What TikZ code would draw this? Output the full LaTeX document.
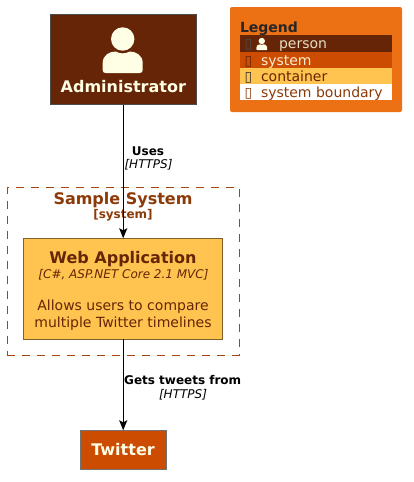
\documentclass[tikz,border=0pt]{standalone}
\usepackage{fontspec}
\setmainfont{DejaVu Sans}
\usetikzlibrary{arrows.meta}
\definecolor{personbg}{HTML}{662506}
\definecolor{systembg}{HTML}{CC4C02}
\definecolor{containerbg}{HTML}{FEC44F}
\definecolor{legendbg}{HTML}{EC7014}
\definecolor{boundarytxt}{HTML}{8C3A08}
\definecolor{boundaryline}{HTML}{A5460F}
\definecolor{containerline}{HTML}{7F6228}
\definecolor{paletxt}{HTML}{FFFFE5}

\begin{document}
\begin{tikzpicture}[x=1pt, y=-1pt, >={Stealth[length=10pt,width=8pt,inset=2pt]},
	every node/.style={inner sep=0pt, outer sep=0pt, anchor=base},
	box/.style={line width=0.9pt, anchor=center},
	row/.style={anchor=center, minimum width=152pt},
	title/.style={font=\fontsize{16}{19}\selectfont\bfseries},
	body/.style={font=\fontsize{14}{17}\selectfont},
	tech/.style={font=\fontsize{12}{14}\selectfont\itshape},
	rel/.style={font=\fontsize{12}{14}\selectfont\bfseries},
	tofu/.style={font=\fontsize{14}{17}\selectfont},
	person icon/.pic={
		\fill (0,0) circle (11.7);
		\fill (-20,31) -- (-20,24) .. controls (-20,16) and (-13,12.5) .. (-7,12.5) .. controls (-3,15) and (3,15) .. (7,12.5) .. controls (13,12.5) and (20,16) .. (20,24) -- (20,31) .. controls (20,33) and (19,34) .. (17,34) -- (-17,34) .. controls (-19,34) and (-20,33) .. (-20,31) -- cycle;
	}]
	\useasboundingbox (0,0) rectangle (414,482);
	% people and systems
	\node[box, draw=black!70, fill=personbg, minimum width=146pt, minimum height=90.5pt] (admin) at (123.2,59.25) {};
	\pic[fill=paletxt] at (122.7,39) {person icon};
	\node[title, text=paletxt] (adminname) at (123.3,92) {Administrator};

	\node[box, draw=black!55, fill=systembg, minimum width=85.5pt, minimum height=39pt] (twitter) at (123.2,449.8) {};
	\node[title, text=paletxt] (twittername) at (123,455) {Twitter};

	% boundary
	\node[draw=boundaryline, line width=1pt, dash pattern=on 8pt off 7pt, anchor=center, minimum width=232pt, minimum height=167.7pt] (boundary) at (123.3,271.2) {};
	\node[title, text=boundarytxt] (boundaryname) at (123,204) {Sample System};
	\node[text=boundarytxt, font=\fontsize{12}{14}\selectfont\bfseries] (boundarytype) at (123,218.5) {[system]};

	% container
	\node[box, draw=containerline, fill=containerbg, minimum width=199pt, minimum height=101pt] (webapp) at (123.2,288.8) {};
	\node[title, text=personbg] (webname) at (123,263) {Web Application};
	\node[tech, text=personbg] (webtech) at (123.5,278) {[C\#, ASP.NET Core 2.1 MVC]};
	\node[body, text=personbg] (webdesc1) at (123,310) {Allows users to compare};
	\node[body, text=personbg] (webdesc2) at (123,327) {multiple Twitter timelines};

	% relations
	\draw[->, line width=1pt] (admin) -- (webapp);
	\draw[->, line width=1pt] (webapp) -- (twitter);
	\node[rel] (useslabel) at (148,155) {Uses};
	\node[tech] (usestech) at (148.5,168.5) {[HTTPS]};
	\node[rel] (getslabel) at (182.7,384) {Gets tweets from};
	\node[tech] (getstech) at (183,398) {[HTTPS]};

	% legend
	\node[fill=legendbg, rounded corners=2pt, anchor=center, minimum width=172pt, minimum height=105pt] (legend) at (316,59.5) {};
	\node[font=\fontsize{14}{17}\selectfont\bfseries, text=black!85, anchor=base west] (legendname) at (240,32) {Legend};
	\node[row, fill=personbg, minimum height=16.5pt] (rowperson) at (316,43.25) {};
	\node[row, fill=systembg, minimum height=16.5pt] (rowsystem) at (316,59.75) {};
	\node[row, fill=containerbg, minimum height=16pt] (rowcontainer) at (316,76) {};
	\node[row, fill=white, minimum height=16pt] (rowboundary) at (316,92) {};
	\node[tofu, text=black!70, anchor=base] (tofuperson) at (248.5,48) {▯};
	\pic[fill=paletxt, scale=0.27] at (261.8,41) {person icon};
	\node[body, text=paletxt!85!personbg, anchor=base west] (txtperson) at (279,48) {person};
	\node[tofu, text=personbg, anchor=base] (tofusystem) at (248.5,65) {▯};
	\node[body, text=paletxt!90!systembg, anchor=base west] (txtsystem) at (261,65) {system};
	\node[tofu, text=black!80, anchor=base] (tofucontainer) at (248.5,81) {▯};
	\node[body, text=personbg, anchor=base west] (txtcontainer) at (261,81) {container};
	\node[tofu, text=boundarytxt, anchor=base] (tofuboundary) at (248.5,97) {▯};
	\node[body, text=boundarytxt, anchor=base west] (txtboundary) at (261,97) {system boundary};
\end{tikzpicture}
\end{document}
